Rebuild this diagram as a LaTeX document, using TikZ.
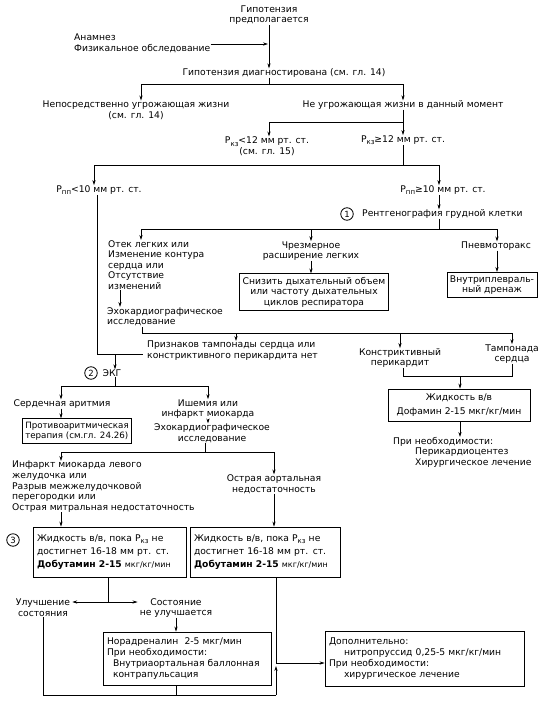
\documentclass[tikz,border=0pt]{standalone}
\usepackage{fontspec}
\setmainfont{DejaVu Sans}
\usetikzlibrary{arrows.meta}
\newcommand{\Pk}{P\raisebox{-0.5ex}{\fontsize{7}{8}\selectfont кз}}
\newcommand{\Pp}{P\raisebox{-0.5ex}{\fontsize{7}{8}\selectfont пп}}
\newcommand{\smt}[1]{{\fontsize{8}{9}\selectfont #1}}
\begin{document}
\begin{tikzpicture}[x=1pt,y=-1pt,
 every node/.style={font=\fontsize{9.2}{10.6}\selectfont, inner sep=0pt, align=center},
 box/.style={draw, line width=0.8pt, inner xsep=3pt, inner ysep=3pt},
 lbox/.style={box, align=left, inner xsep=4pt},
 wide/.style={font=\fontsize{9.2}{13.5}\selectfont},
 num/.style={draw, circle, line width=0.8pt, minimum size=12.5pt, inner sep=0pt, font=\fontsize{8.5}{9}\selectfont},
 ln/.style={line width=0.7pt},
 arr/.style={line width=0.7pt, -{Stealth[length=5pt,width=3.2pt]}},
]
\useasboundingbox (0,0) rectangle (545,701);
% nodes
\node (t1) at (269,15) {Гипотензия\\предполагается};
\node[anchor=west, align=left] (t2) at (74,43) {Анамнез\\Физикальное обследование};
\node (t3) at (284,73) {Гипотензия диагностирована (см. гл. 14)};
\node (t4) at (136,110) {Непосредственно угрожающая жизни\\(см. гл. 14)};
\node (t5) at (403,105) {Не угрожающая жизни в данный момент};
\node (t6) at (267,146) {\Pk<12 мм рт. ст.\\(см. гл. 15)};
\node (t7) at (403,140) {\Pk≥12 мм рт. ст.};
\node (t8) at (99,190) {\Pp<10 мм рт. ст.};
\node (t9) at (443,190) {\Pp≥10 мм рт. ст.};
\node[num] (c1) at (347,214) {1};
\node[anchor=west] (t10) at (362,214) {Рентгенография грудной клетки};
\node[anchor=north west, align=left] (t11) at (108,240) {Отек легких или\\Изменение контура\\сердца или\\Отсутствие\\изменений};
\node (t12) at (311,251) {Чрезмерное\\расширение легких};
\node[box] (b12) at (314,292) {Снизить дыхательный объем\\или частоту дыхательных\\циклов респиратора};
\node (t13) at (496,246) {Пневмоторакс};
\node[box] (b13) at (492,285) {Внутриплевраль-\\ный дренаж};
\node[anchor=north west, align=left] (t14) at (107,307) {Эхокардиографическое\\исследование};
\node[anchor=north west, align=left] (t15) at (147,341) {Признаков тампонады сердца или\\констриктивного перикардита нет};
\node (t16) at (400,358) {Констриктивный\\перикардит};
\node (t17) at (512,354) {Тампонада\\сердца};
\node[box, wide, minimum width=142pt, minimum height=32pt] (b18) at (459,405) {Жидкость в/в\\Дофамин 2-15 мкг/кг/мин};
\node[anchor=north west, align=left] (t19) at (393,437) {При необходимости:\\\hspace{22pt}Перикардиоцентез\\\hspace{22pt}Хирургическое лечение};
\node[num] (c2) at (91,373) {2};
\node (t20) at (112,373) {ЭКГ};
\node (t21) at (62,404) {Сердечная аритмия};
\node (t22) at (208,409) {Ишемия или\\инфаркт миокарда};
\node[box, align=left, font=\fontsize{8.7}{10.4}\selectfont] (b23) at (77,431) {Противоаритмическая\\терапия (см.гл. 24.26)};
\node (t24) at (212,433) {Эхокардиографическое\\исследование};
\node[anchor=north west, align=left] (t25) at (12,461) {Инфаркт миокарда левого\\желудочка или\\Разрыв межжелудочковой\\перегородки или\\Острая митральная недостаточность};
\node (t26) at (274,484) {Острая аортальная\\недостаточность};
\node[num] (c3) at (13,540) {3};
\node[lbox, font=\fontsize{9.2}{13}\selectfont, text width=145pt, minimum height=50pt] (b27) at (109.5,552) {Жидкость в/в, пока \Pk{} не\\достигнет 16-18 мм рт. ст.\\\textbf{Добутамин 2-15} \smt{мкг/кг/мин}};
\node[lbox, font=\fontsize{9.2}{13}\selectfont, text width=142pt, minimum height=50pt] (b28) at (265,552) {Жидкость в/в, пока \Pk{} не\\достигнет 16-18 мм рт. ст.\\\textbf{Добутамин 2-15} \smt{мкг/кг/мин}};
\node (t29) at (43,608) {Улучшение\\состояния};
\node (t30) at (176,608) {Состояние\\не улучшается};
\node[lbox, font=\fontsize{9.2}{11.2}\selectfont, text width=160pt, minimum height=53pt] (b31) at (187,658.5) {Норадреналин \ 2-5 мкг/мин\\При необходимости:\\\hspace{6pt}Внутриаортальная баллонная\\\hspace{6pt}контрапульсация};
\node[lbox, font=\fontsize{9.2}{11.2}\selectfont, text width=191pt, minimum height=55pt] (b32) at (424.5,658.5) {Дополнительно:\\\hspace{15pt}нитропруссид 0,25-5 мкг/кг/мин\\При необходимости:\\\hspace{15pt}хирургическое лечение};
% junction coordinates
\coordinate (j0) at (269,44);
\coordinate (b1) at (269,84);
\coordinate (b1l) at (141,84);
\coordinate (b1r) at (403,84);
\coordinate (b2) at (403,122);
\coordinate (b2l) at (269,122);
\coordinate (b3) at (403,165);
\coordinate (b3l) at (94,165);
\coordinate (b3r) at (439,165);
\coordinate (b4) at (439,229);
\coordinate (b4l) at (141,229);
\coordinate (b4m) at (311,229);
\coordinate (b4r) at (497,229);
\coordinate (k1) at (120,300);
\coordinate (b5s) at (142,327);
\coordinate (b5l) at (142,333);
\coordinate (b5a) at (236,333);
\coordinate (b5b) at (400,333);
\coordinate (b5r) at (512,333);
\coordinate (k2) at (403,376);
\coordinate (k3) at (512,376);
\coordinate (k4) at (460,376);
\coordinate (k5) at (97,354);
\coordinate (k6) at (143,354);
\coordinate (k7) at (115,354);
\coordinate (b6) at (115,386);
\coordinate (b6l) at (61,386);
\coordinate (b6r) at (208,386);
\coordinate (b7) at (205,452);
\coordinate (b7l) at (61,452);
\coordinate (b7r) at (274,452);
\coordinate (b8) at (108,602);
\coordinate (k8) at (43,695);
\coordinate (k9) at (276,695);
\coordinate (k10) at (276,663);
% connectors
\draw[arr] (t1.south) -- (t1.south |- t3.north);
\draw[arr, shorten >=1pt] (t2.east |- j0) -- (j0);
\draw[ln] (t3.south -| b1) -- (b1);
\draw[ln] (b1l) -- (b1r);
\draw[arr] (b1l) -- (b1l |- t4.north);
\draw[arr] (b1r) -- (t5.north);
\draw[ln] (t5.south) -- (b2) -- (b2l);
\draw[arr] (b2l) -- (b2l |- t6.north);
\draw[arr] (b2) -- (t7.north);
\draw[ln] (t7.south) -- (b3);
\draw[ln] (b3l) -- (b3r);
\draw[arr] (b3l) -- (b3l |- t8.north);
\draw[arr] (b3r) -- (b3r |- t9.north);
\draw[arr] (b3r |- t9.south) -- (b3r |- t10.north);
\draw[ln] (b3r |- t10.south) -- (b4);
\draw[ln] (b4l) -- (b4r);
\draw[arr] (b4l) -- (b4l |- t11.north);
\draw[arr] (b4m) -- (b4m |- t12.north);
\draw[arr] (b4r) -- (b4r |- t13.north);
\draw[arr] (t12.south -| b4m) -- (b4m |- b12.north);
\draw[arr] (t13.south -| b4r) -- (b4r |- b13.north);
\draw[arr] (k1 |- t11.south) -- (k1 |- t14.north);
\draw[ln] (b5s) -- (b5l) -- (b5r);
\draw[arr] (b5a) -- (b5a |- t15.north);
\draw[arr] (b5b) -- (b5b |- t16.north);
\draw[arr] (b5r) -- (b5r |- t17.north);
\draw[ln] (k2 |- t16.south) -- (k2) -- (k3) -- (k3 |- t17.south);
\draw[arr] (k4) -- (k4 |- b18.north);
\draw[arr] (k4 |- b18.south) -- (k4 |- t19.north);
\draw[ln] (k5 |- t8.south) -- (k5) -- (k6);
\draw[arr] (k7) -- (k7 |- t20.north);
\draw[ln] (k7 |- t20.south) -- (b6);
\draw[ln] (b6l) -- (b6r);
\draw[arr] (b6l) -- (b6l |- t21.north);
\draw[arr] (b6r) -- (b6r |- t22.north);
\draw[arr] (b6l |- t21.south) -- (b6l |- b23.north);
\draw[arr] (b6r |- t22.south) -- (b6r |- t24.north);
\draw[ln] (b7 |- t24.south) -- (b7);
\draw[ln] (b7l) -- (b7r);
\draw[arr] (b7l) -- (b7l |- t25.north);
\draw[arr] (b7r) -- (b7r |- t26.north);
\draw[arr] (b7l |- t25.south) -- (b7l |- b27.north);
\draw[arr] (b7r |- t26.south) -- (b7r |- b28.north);
\draw[ln] (b8 |- b27.south) -- (b8);
\draw[arr, shorten >=2pt] (b8) -- (b8 -| t29.east);
\draw[arr, shorten >=2pt] (b8) -- (b8 -| t30.west);
\draw[arr] (t30.south) -- (t30.south |- b31.north);
\draw[ln] (t29.south) -- (t29.south |- k8) -- (k9);
\draw[arr, shorten >=3pt] (k9) -- (k10);
\draw[ln] (t30 |- b31.south) -- (t30 |- k8);
\draw[ln] (k10 |- b28.south) -- (k10);
\draw[arr] (k10) -- (k10 -| b32.west);
\end{tikzpicture}
\end{document}
